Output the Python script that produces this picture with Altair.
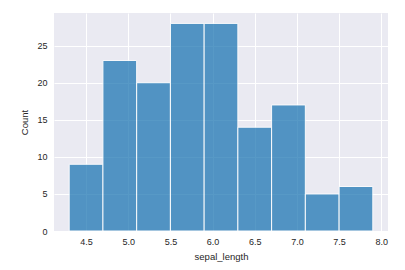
import altair as alt
import pandas as pd

bin_start = [4.3, 4.7, 5.1, 5.5, 5.9, 6.3, 6.7, 7.1, 7.5]
bin_end = [4.7, 5.1, 5.5, 5.9, 6.3, 6.7, 7.1, 7.5, 7.9]
counts = [9, 23, 20, 28, 28, 14, 17, 5, 6]

df = pd.DataFrame({"start": bin_start, "end": bin_end, "count": counts})

font = "Liberation Sans"

chart = alt.Chart(df).mark_rect(
    color="#1f77b4", opacity=0.75, stroke="white", strokeWidth=1, strokeOpacity=1
).encode(
    x=alt.X("start:Q", scale=alt.Scale(domain=[4.12, 8.08], nice=False, zero=False),
            axis=alt.Axis(title="sepal_length", values=[4.5, 5.0, 5.5, 6.0, 6.5, 7.0, 7.5, 8.0],
                          format=".1f", labelPadding=6, titlePadding=5)),
    x2="end:Q",
    y=alt.Y("count:Q", scale=alt.Scale(domain=[0, 29.4], nice=False),
            axis=alt.Axis(title="Count", values=[0, 5, 10, 15, 20, 25],
                          labelPadding=7, titlePadding=7)),
    y2=alt.datum(0),
).properties(
    width=334, height=218,
    autosize=alt.AutoSizeParams(type="none"),
    padding={"left": 54, "top": 13, "right": 17, "bottom": 39},
    background="white",
).configure_view(
    fill="#EAEAF2", stroke=None
).configure_axis(
    domain=False, ticks=False, grid=True, gridColor="white", gridWidth=1,
    labelFont=font, titleFont=font, labelFontSize=9, titleFontSize=9.5,
    labelColor="#262626", titleColor="#262626", titleFontWeight="normal",
)

chart.save("out.html", embed_options={"renderer": "svg", "actions": False})
